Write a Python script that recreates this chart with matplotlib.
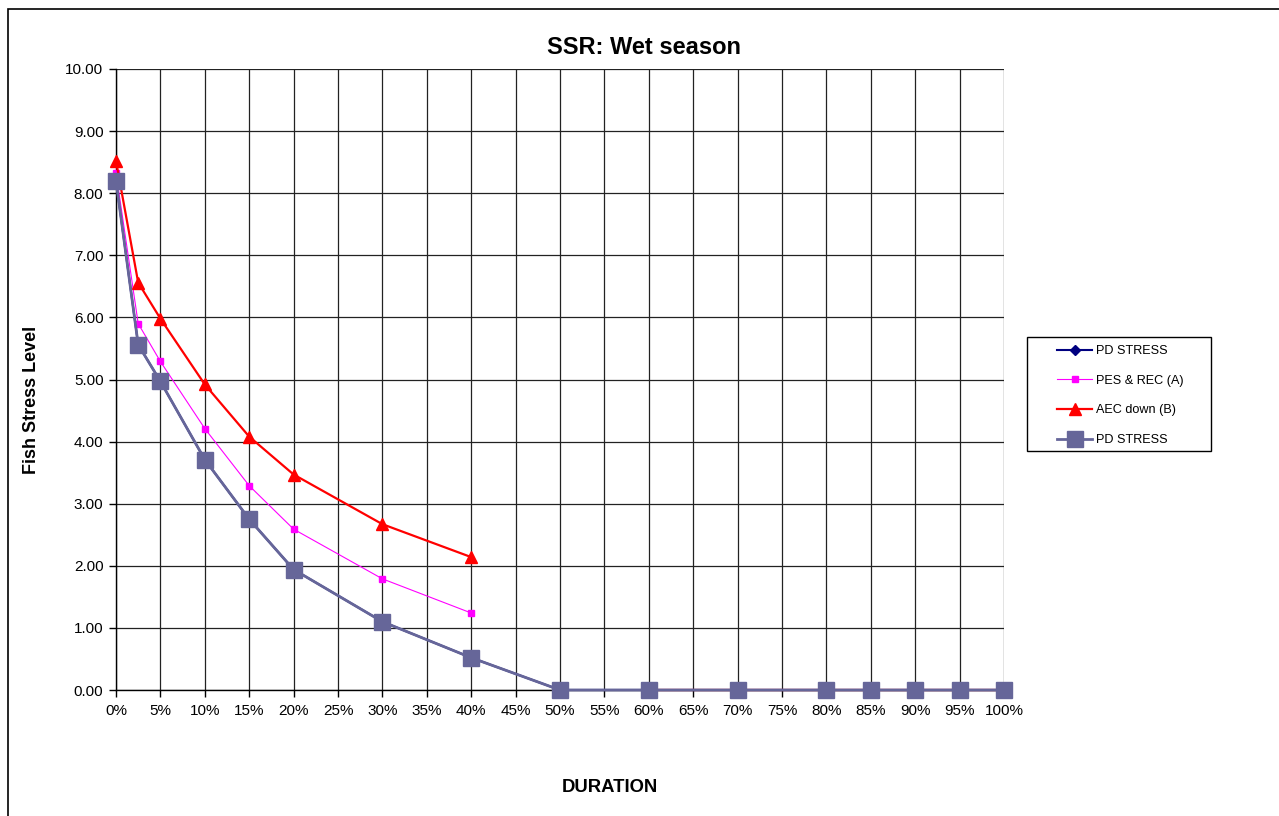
import numpy as np
import matplotlib.pyplot as plt
from matplotlib.ticker import FuncFormatter

plt.rcParams['font.family'] = ['Liberation Sans', 'DejaVu Sans']

# Duration (%) and stress levels
duration = [0, 2.5, 5, 10, 15, 20, 30, 40, 50, 60, 70, 80, 85, 90, 95, 100]
pd_stress = [8.2, 5.56, 4.97, 3.71, 2.75, 1.94, 1.1, 0.52, 0, 0, 0, 0, 0, 0, 0, 0]
pes_rec_a = [8.33, 5.9, 5.29, 4.21, 3.29, 2.59, 1.79, 1.24, np.nan, 0, 0, 0, 0, 0, 0, 0]
aec_down_b = [8.52, 6.56, 5.98, 4.92, 4.08, 3.47, 2.67, 2.14, np.nan, 0, 0, 0, 0, 0, 0, 0]

W, H = 1279, 816
fig = plt.figure(figsize=(W / 100, H / 100), dpi=100)
# chart-area border like the spreadsheet export
fig.patches.append(plt.Rectangle((8 / W, -0.01), 1.0, 1 - 9 / H + 0.01,
                                 transform=fig.transFigure, fill=False,
                                 edgecolor='black', linewidth=1.2))

ax = fig.add_axes([116 / W, 126 / H, 888 / W, 621 / H])

ax.plot(duration, pd_stress, color='#000080', marker='D', markersize=5,
        linewidth=1.5, label='PD STRESS', zorder=3, clip_on=False)
ax.plot(duration, pes_rec_a, color='#FF00FF', marker='s', markersize=5,
        linewidth=0.8, label='PES & REC (A)', zorder=4, clip_on=False)
ax.plot(duration, aec_down_b, color='#FF0000', marker='^', markersize=8.5,
        linewidth=1.6, label='AEC down (B)', zorder=5, clip_on=False)
ax.plot(duration, pd_stress, color='#666699', marker='s', markersize=11.5,
        linewidth=2.0, label='PD STRESS', zorder=6, clip_on=False)

ax.set_xlim(0, 100)
ax.set_ylim(0, 10)
ax.set_xticks(np.arange(0, 101, 5))
ax.set_yticks(np.arange(0, 10.01, 1))
ax.xaxis.set_major_formatter(FuncFormatter(lambda v, p: f'{v:.0f}%'))
ax.yaxis.set_major_formatter(FuncFormatter(lambda v, p: f'{v:.2f}'))
ax.tick_params(axis='both', labelsize=11, direction='out', length=5, width=1, colors='black')
ax.tick_params(axis='x', pad=5)
ax.tick_params(axis='y', pad=4)
ax.grid(True, color='#222222', linewidth=0.9)
ax.set_axisbelow(True)
for s in ax.spines.values():
    s.set_color('black')
    s.set_linewidth(1)
ax.spines['top'].set_visible(False)
ax.spines['right'].set_visible(False)

fig.text(644 / W, 1 - 47 / H, 'SSR: Wet season', ha='center', va='center',
         fontsize=17, fontweight='bold')
fig.text(32 / W, 1 - 400 / H, 'Fish Stress Level', ha='center', va='center',
         rotation=90, fontsize=13, fontweight='bold')
fig.text(610 / W, 1 - 788 / H, 'DURATION', ha='center', va='center',
         fontsize=13.3, fontweight='bold')

# legend box drawn separately so its padding matches the original
fig.patches.append(plt.Rectangle((1027 / W, 1 - 451 / H), 184 / W, 114 / H,
                                 transform=fig.transFigure, fill=False,
                                 edgecolor='black', linewidth=1))
leg = ax.legend(loc='upper left', bbox_to_anchor=(1057 / W, 1 - 345 / H),
                bbox_transform=fig.transFigure, fontsize=9.1, frameon=False,
                handlelength=2.8, labelspacing=1.4, borderpad=0,
                handletextpad=0.3, borderaxespad=0)

fig.savefig('out.png', dpi=100)
